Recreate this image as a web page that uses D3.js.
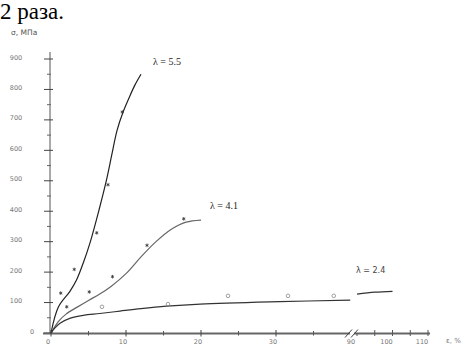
<!DOCTYPE html>
<html>
<head>
<meta charset="utf-8">
<script src="https://cdn.jsdelivr.net/npm/d3@7"></script>
<style>
  body { margin: 0; background: #fff; }
  svg { display: block; }
  .serif { font-family: "Liberation Serif", "DejaVu Serif", serif; }
  .sans { font-family: "DejaVu Sans", sans-serif; }
</style>
</head>
<body>
<svg id="canvas" width="472" height="355"></svg>
<script>
// curve data, strain (%) and stress (MPa)
let curve55 = [[0, 0], [1.0, 86], [2.5, 136], [3.4, 174], [4.3, 230], [5.2, 296], [6.4, 404],
  [7.4, 503], [8.1, 585], [8.8, 665], [9.6, 725], [10.4, 772], [11.2, 815], [12.0, 850]];
let curve41 = [[0, 0], [1.0, 38], [2.0, 62], [3.5, 85], [5.0, 107], [6.5, 128], [8.0, 153],
  [10.0, 195], [12.0, 250], [14.0, 300], [16.0, 340], [18.0, 364], [20.0, 371]];
let curve24 = [[0, 0], [0.5, 16], [1.2, 32], [2.5, 48], [4.3, 58], [6.5, 64], [9.2, 72],
  [12.0, 80], [15.4, 88], [19.9, 95], [30.5, 103], [39.9, 108]];
let curve24b = [[90, 128], [95, 134], [100, 137]];

let points55 = [[1.3, 131], [3.1, 209], [6.1, 329], [7.6, 487], [9.5, 726]];
let points41 = [[2.1, 86], [5.1, 135], [8.2, 185], [12.8, 288], [17.7, 375]];
let points24 = [[6.8, 86], [15.6, 95], [23.6, 122], [31.6, 122], [37.7, 122]];

let yTicks = [0, 100, 200, 300, 400, 500, 600, 700, 800, 900];
let yMinor = [50, 150, 250, 350, 450, 550, 650, 750, 850];
let xTicks = [0, 10, 20, 30];
let xMinor = [5, 15, 25, 35];
let xTicks2 = [90, 100, 110];
let xMinor2 = [95, 105];

let lambdaLabels = ['λ = 5.5', 'λ = 4.1', 'λ = 2.4'];

let canvas = d3.select('#canvas');

let x = d3.scaleLinear().domain([0, 40]).range([51, 351]);
let x2 = d3.scaleLinear().domain([90, 110]).range([357, 428]);
let y = d3.scaleLinear().domain([0, 900]).range([333, 59]);

// text cut from the page above the figure
canvas.append('text')
  .attr('class', 'serif')
  .attr('x', 0).attr('y', 19)
  .attr('font-size', 23)
  .attr('fill', '#000')
  .text('2 раза.');

let grey = '#666';

// y axis
canvas.append('line')
  .attr('x1', 50).attr('x2', 50).attr('y1', 52).attr('y2', 333)
  .attr('stroke', '#555').attr('stroke-width', 1);
canvas.selectAll('.ytick').data(yTicks).enter().append('line')
  .attr('x1', 44).attr('x2', 53)
  .attr('y1', d => y(d)).attr('y2', d => y(d))
  .attr('stroke', '#444').attr('stroke-width', 1);
canvas.selectAll('.yminor').data(yMinor).enter().append('line')
  .attr('x1', 47).attr('x2', 51)
  .attr('y1', d => y(d)).attr('y2', d => y(d))
  .attr('stroke', '#666').attr('stroke-width', 1);
canvas.selectAll('.ylab').data(yTicks).enter().append('text')
  .attr('class', 'sans')
  .attr('x', d => d === 0 ? 32 : 16)
  .attr('y', d => y(d) + 0.5)
  .attr('text-anchor', 'middle')
  .attr('font-size', 6.5)
  .attr('fill', '#777')
  .text(d => d);

canvas.append('text')
  .attr('class', 'sans')
  .attr('x', 11).attr('y', 35)
  .attr('font-size', 7.5)
  .attr('fill', '#555')
  .text('σ, МПа');

// x axis, broken between 40 and 90
canvas.append('line')
  .attr('x1', 43).attr('x2', x(40) - 1).attr('y1', 333.5).attr('y2', 333.5)
  .attr('stroke', grey).attr('stroke-width', 2);
canvas.append('line')
  .attr('x1', x2(90) - 3).attr('x2', x2(110) + 2).attr('y1', 333.5).attr('y2', 333.5)
  .attr('stroke', grey).attr('stroke-width', 2);
canvas.selectAll('.brk').data([x(40) - 3, x2(90) - 3]).enter().append('line')
  .attr('x1', d => d - 3).attr('x2', d => d + 4)
  .attr('y1', 337.5).attr('y2', 329.5)
  .attr('stroke', '#444').attr('stroke-width', 1);

canvas.selectAll('.xtick').data(xTicks).enter().append('line')
  .attr('x1', d => x(d)).attr('x2', d => x(d))
  .attr('y1', 330).attr('y2', 336.5)
  .attr('stroke', '#444').attr('stroke-width', 1);
canvas.selectAll('.xminor').data(xMinor).enter().append('line')
  .attr('x1', d => x(d)).attr('x2', d => x(d))
  .attr('y1', 331).attr('y2', 335.5)
  .attr('stroke', '#555').attr('stroke-width', 1);
canvas.selectAll('.xtick2').data(xTicks2.concat(xMinor2)).enter().append('line')
  .attr('x1', d => x2(d)).attr('x2', d => x2(d))
  .attr('y1', d => d === 90 ? 333 : 330).attr('y2', 336)
  .attr('stroke', '#555').attr('stroke-width', 1);

canvas.selectAll('.xlab').data(xTicks).enter().append('text')
  .attr('class', 'sans')
  .attr('x', d => x(d) - 3)
  .attr('y', 344)
  .attr('text-anchor', 'middle')
  .attr('font-size', 6.5)
  .attr('fill', '#777')
  .text(d => d);
canvas.selectAll('.xlab2').data(xTicks2).enter().append('text')
  .attr('class', 'sans')
  .attr('x', d => x2(d) - 6)
  .attr('y', 344)
  .attr('text-anchor', 'middle')
  .attr('font-size', 6.5)
  .attr('fill', '#777')
  .text(d => d);

canvas.append('text')
  .attr('class', 'sans')
  .attr('x', 446).attr('y', 343)
  .attr('font-size', 7)
  .attr('fill', '#777')
  .text('ε, %');

// curves
let line1 = d3.line().x(d => x(d[0])).y(d => y(d[1])).curve(d3.curveCatmullRom);
let line2 = d3.line().x(d => x2(d[0])).y(d => y(d[1])).curve(d3.curveCatmullRom);

canvas.append('path').attr('d', line1(curve55))
  .attr('fill', 'none').attr('stroke', '#222').attr('stroke-width', 1.2);
canvas.append('path').attr('d', line1(curve41))
  .attr('fill', 'none').attr('stroke', '#666').attr('stroke-width', 1.2);
canvas.append('path').attr('d', line1(curve24))
  .attr('fill', 'none').attr('stroke', '#333').attr('stroke-width', 1.2);
canvas.append('path').attr('d', line2(curve24b))
  .attr('fill', 'none').attr('stroke', '#333').attr('stroke-width', 1.2);

// markers
let star = d3.symbol().type(d3.symbolAsterisk).size(9);
canvas.selectAll('.pstar').data(points55.concat(points41)).enter().append('path')
  .attr('d', star)
  .attr('transform', d => 'translate(' + x(d[0]) + ',' + y(d[1]) + ')')
  .attr('fill', 'none')
  .attr('stroke', '#333')
  .attr('stroke-width', 0.8);
canvas.selectAll('.p24').data(points24).enter().append('circle')
  .attr('cx', d => x(d[0]))
  .attr('cy', d => y(d[1]))
  .attr('r', 1.8)
  .attr('fill', 'none')
  .attr('stroke', '#888')
  .attr('stroke-width', 0.8);

// lambda labels
canvas.append('text').attr('class', 'serif').attr('x', 153).attr('y', 65)
  .attr('font-size', 10).attr('fill', '#222')
  .text(lambdaLabels[0]);
canvas.append('text').attr('class', 'serif').attr('x', 210).attr('y', 209)
  .attr('font-size', 10).attr('fill', '#222')
  .text(lambdaLabels[1]);
canvas.append('text').attr('class', 'sans').attr('x', 356).attr('y', 273)
  .attr('font-size', 8).attr('fill', '#444')
  .text(lambdaLabels[2]);
</script>
</body>
</html>
